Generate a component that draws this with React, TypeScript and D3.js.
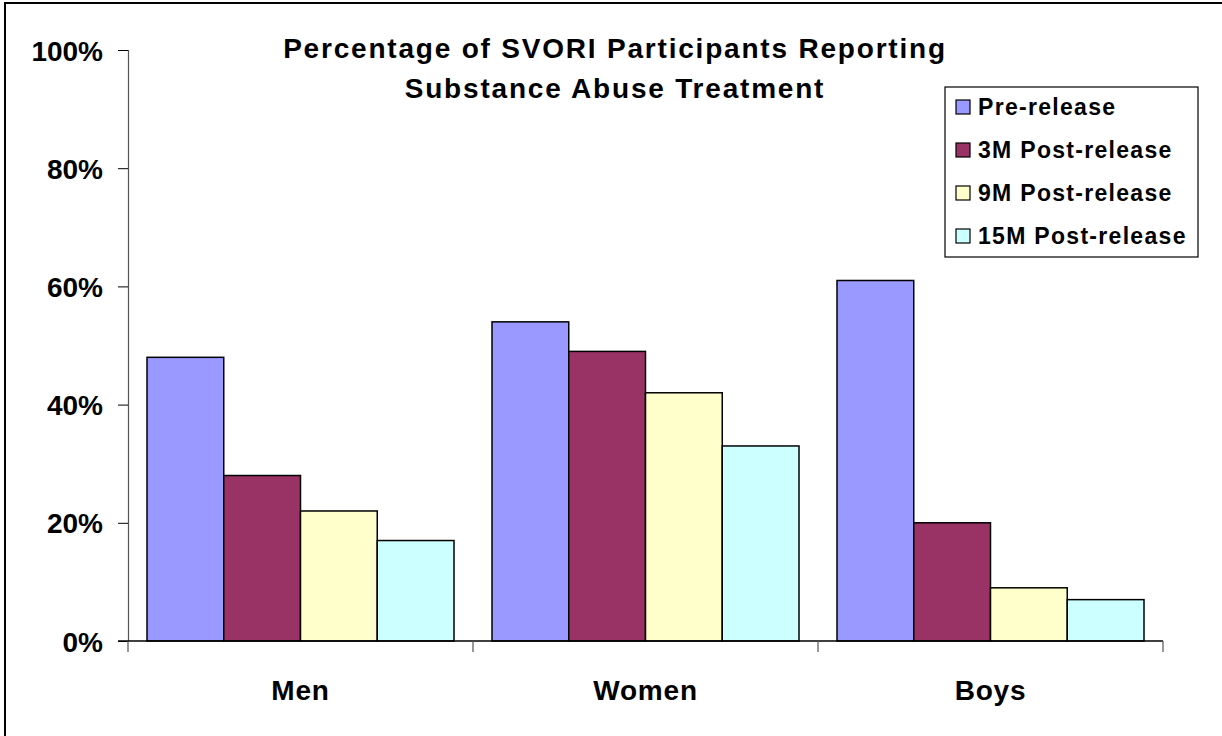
import { useEffect, useRef } from 'react';
import * as d3 from 'd3';

const categories = ['Men', 'Women', 'Boys'];
const seriesNames = ['Pre-release', '3M Post-release', '9M Post-release', '15M Post-release'];
const preRelease = [0.48, 0.54, 0.61];
const post3M = [0.28, 0.49, 0.2];
const post9M = [0.22, 0.42, 0.09];
const post15M = [0.17, 0.33, 0.07];
const seriesColors = ['#9999FF', '#993366', '#FFFFCC', '#CCFFFF'];
const yTicks = [0, 0.2, 0.4, 0.6, 0.8, 1];

export default function App() {
  const svgRef = useRef<SVGSVGElement>(null);

  useEffect(() => {
    if (!svgRef.current) return;
    const svg = d3.select(svgRef.current);
    svg.selectAll('*').remove();

    const font = 'Liberation Sans, Arial, sans-serif';
    const values = [preRelease, post3M, post9M, post15M];

    // frame
    svg.append('rect')
      .attr('x', 5).attr('y', 3)
      .attr('width', 1240).attr('height', 760)
      .attr('fill', 'white').attr('stroke', 'black').attr('stroke-width', 2);

    const x0 = d3.scaleBand().domain(categories).range([128, 1163]);
    const x1 = d3.scaleBand().domain(seriesNames).range([19, x0.bandwidth() - 19]);
    const y = d3.scaleLinear().domain([0, 1]).range([641, 50]);

    // bars
    categories.forEach((c, ci) => {
      seriesNames.forEach((s, si) => {
        const v = values[si][ci];
        svg.append('rect')
          .attr('x', x0(c)! + x1(s)!)
          .attr('y', y(v))
          .attr('width', x1.bandwidth())
          .attr('height', y(0) - y(v))
          .attr('fill', seriesColors[si])
          .attr('stroke', 'black')
          .attr('stroke-width', 1.5);
      });
    });

    // y axis
    const yAxis = svg.append('g').attr('transform', 'translate(128,0)')
      .call(d3.axisLeft(y).tickValues(yTicks).tickSize(10).tickFormat(d3.format('.0%')));
    yAxis.select('.domain').attr('stroke', '#555').attr('stroke-width', 1.2);
    yAxis.selectAll('.tick line').attr('stroke', 'black');
    yAxis.selectAll('.tick text')
      .attr('x', -25)
      .attr('dy', '0.36em')
      .attr('font-family', font).attr('font-weight', 'bold').attr('font-size', 28).attr('fill', 'black');

    // x axis
    svg.append('line')
      .attr('x1', 118).attr('x2', 1163).attr('y1', 641).attr('y2', 641)
      .attr('stroke', 'black').attr('stroke-width', 1.5);
    const boundaries = [...categories.map(c => x0(c)!), x0.range()[1]];
    svg.selectAll('.xtick').data(boundaries).enter().append('line')
      .attr('x1', d => d).attr('x2', d => d).attr('y1', 641).attr('y2', 652)
      .attr('stroke', '#555').attr('stroke-width', 1.2);
    svg.selectAll('.xlabel').data(categories).enter().append('text')
      .attr('x', d => x0(d)! + x0.bandwidth() / 2)
      .attr('y', 700)
      .attr('text-anchor', 'middle')
      .attr('font-family', font).attr('font-weight', 'bold').attr('font-size', 28)
      .attr('letter-spacing', 0.8)
      .text(d => d);

    // title
    const title = ['Percentage of SVORI Participants Reporting', 'Substance Abuse Treatment'];
    svg.selectAll('.title').data(title).enter().append('text')
      .attr('x', 615)
      .attr('y', (d, i) => 58 + i * 40)
      .attr('text-anchor', 'middle')
      .attr('font-family', font).attr('font-weight', 'bold').attr('font-size', 28)
      .attr('letter-spacing', 1.8)
      .text(d => d);

    // legend
    const lg = svg.append('g').attr('transform', 'translate(945,87)');
    lg.append('rect').attr('width', 253).attr('height', 170)
      .attr('fill', 'white').attr('stroke', 'black').attr('stroke-width', 1.2);
    seriesNames.forEach((s, i) => {
      const cy = 20 + i * 43;
      lg.append('rect')
        .attr('x', 11).attr('y', cy - 7).attr('width', 14).attr('height', 14)
        .attr('fill', seriesColors[i]).attr('stroke', 'black').attr('stroke-width', 1.2);
      lg.append('text')
        .attr('x', 33).attr('y', cy).attr('dy', '0.36em')
        .attr('font-family', font).attr('font-weight', 'bold').attr('font-size', 23)
        .attr('letter-spacing', 1.3)
        .text(s);
    });
  }, []);

  return (
    <svg ref={svgRef} width={1222} height={736}
      style={{ position: 'absolute', left: 0, top: 0, display: 'block' }} />
  );
}
